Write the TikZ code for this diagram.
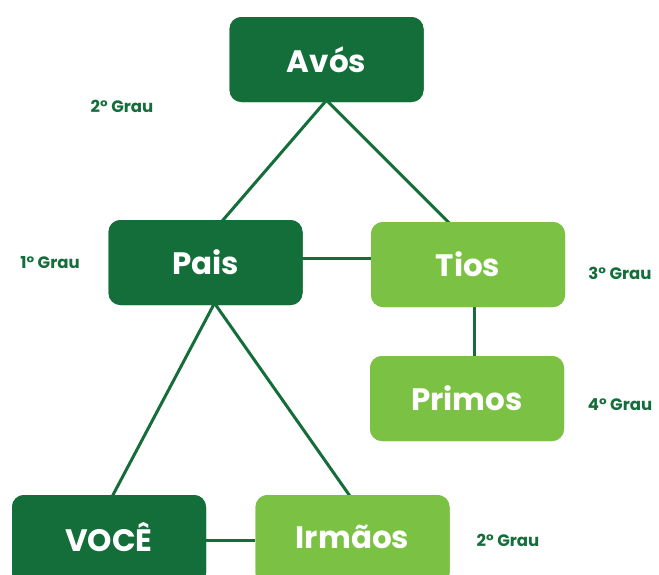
\documentclass[tikz,border=0pt]{standalone}
\usepackage{fontspec}
\setmainfont{Poppins}
\usetikzlibrary{calc}
\definecolor{darkg}{HTML}{146E3A}
\definecolor{lightg}{HTML}{7BC143}
\tikzset{
  box/.style={rounded corners=12pt, minimum width=194pt, minimum height=85pt, inner sep=0pt, text=white, font=\bfseries\fontsize{31}{34}\selectfont},
  darkbox/.style={box, fill=darkg},
  lightbox/.style={box, fill=lightg},
  link/.style={draw=darkg, line width=3pt},
  lbl/.style={text=white, font=\bfseries\fontsize{31}{34}\selectfont},
  grau/.style={text=darkg, font=\bfseries\fontsize{16.5}{18}\selectfont, inner sep=0pt}
}
\begin{document}
\begin{tikzpicture}[x=1pt,y=-1pt]
\useasboundingbox[fill=white] (0,0) rectangle (659,574);
% node geometry (drawn first for anchors)
\node[darkbox] (avos) at (326.5,59.5) {};
\node[darkbox] (pais) at (205.5,262.5) {};
\node[lightbox] (tios) at (468,264.5) {};
\node[lightbox] (primos) at (467,398.5) {};
\node[darkbox, minimum height=90pt] (voce) at (109,540) {};
\node[lightbox, minimum height=90pt] (irmaos) at (352.5,540) {};
% connector end points
\coordinate (a1) at ($(avos.south)+(0,-2)$);
\coordinate (p1) at ($(pais.north)+(16,2)$);
\coordinate (t1) at ($(tios.north)+(-18,2)$);
\coordinate (p2) at ($(pais.south)+(9,-2)$);
\coordinate (v1) at ($(voce.north)+(3,2)$);
\coordinate (i1) at ($(irmaos.north)+(-2,2)$);
\coordinate (pe) at ($(pais.east)+(-2,-4.5)$);
\coordinate (tw) at ($(tios.west)+(2,-6.5)$);
\coordinate (ts) at ($(tios.south)+(6,-2)$);
\coordinate (pn) at ($(primos.north)+(7,2)$);
\draw[link] (a1) -- (p1);
\draw[link] (a1) -- (t1);
\draw[link] (p2) -- (v1);
\draw[link] (p2) -- (i1);
\draw[link] (pe) -- (tw);
\draw[link] (ts) -- (pn);
\draw[link] (voce.east) -- (irmaos.west);
% boxes on top
\node[darkbox] at (avos) {};
\node[darkbox] at (pais) {};
\node[lightbox] at (tios) {};
\node[lightbox] at (primos) {};
\node[darkbox, minimum height=90pt] at (voce) {};
\node[lightbox, minimum height=90pt] at (irmaos) {};
\node[lbl] (avost) at (326.5,59.5) {Avós};
\node[lbl] (paist) at (205.5,262.5) {Pais};
\node[lbl] (tiost) at (468,264.5) {Tios};
\node[lbl] (primost) at (467,398.5) {Primos};
\node[lbl] (vocet) at (109,537) {VOCÊ};
\node[lbl] (irmaost) at (352.5,537) {Irmãos};
% labels
\node[grau] (g1) at (122,106) {2° Grau};
\node[grau] (g2) at (50,263) {1° Grau};
\node[grau] (g3) at (620,273) {3° Grau};
\node[grau] (g4) at (620,405) {4° Grau};
\node[grau] (g5) at (508,540) {2° Grau};
\end{tikzpicture}
\end{document}
